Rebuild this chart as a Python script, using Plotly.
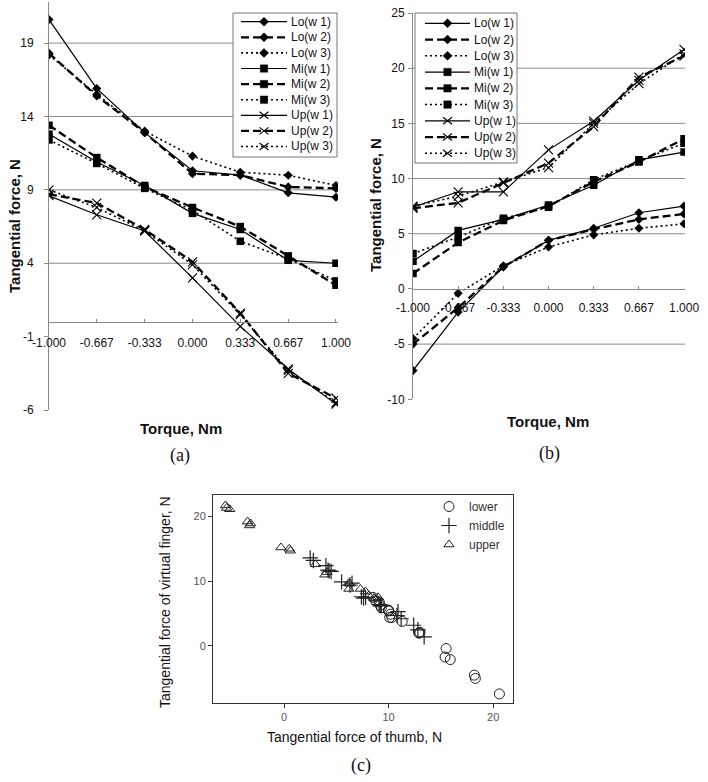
import plotly.graph_objects as go

W, H = 708, 782

# ---------------- data ----------------
TORQUE = [-1.0, -0.667, -0.333, 0.0, 0.333, 0.667, 1.0]
TORQUE_LABELS = ["-1.000", "-0.667", "-0.333", "0.000", "0.333", "0.667", "1.000"]

# Panel (a): tangential force of the thumb (N)
A_LO_W1 = [20.6, 15.9, 12.9, 10.3, 10.0, 8.8, 8.5]
A_LO_W2 = [18.3, 15.4, 12.9, 10.1, 10.0, 9.2, 9.1]
A_LO_W3 = [18.2, 15.5, 13.0, 11.3, 10.2, 10.0, 9.3]
A_MI_W1 = [12.8, 10.9, 9.3, 7.4, 6.3, 4.2, 4.0]
A_MI_W2 = [13.4, 11.2, 9.2, 7.8, 6.5, 4.5, 2.5]
A_MI_W3 = [12.4, 10.8, 9.1, 7.6, 5.5, 4.3, 2.8]
A_UP_W1 = [8.6, 7.3, 6.2, 3.0, -0.3, -3.2, -5.6]
A_UP_W2 = [8.7, 8.1, 6.3, 4.1, 0.6, -3.5, -5.2]
A_UP_W3 = [9.0, 7.8, 6.2, 3.9, 0.5, -3.3, -5.5]

# Panel (b): tangential force of the virtual finger (N)
B_LO_W1 = [-7.4, -2.1, 2.0, 4.4, 5.5, 6.9, 7.5]
B_LO_W2 = [-5.0, -1.7, 2.0, 4.4, 5.4, 6.3, 6.8]
B_LO_W3 = [-4.5, -0.4, 2.1, 3.8, 4.9, 5.5, 5.9]
B_MI_W1 = [2.5, 5.3, 6.3, 7.6, 9.4, 11.7, 12.4]
B_MI_W2 = [1.4, 4.2, 6.2, 7.5, 9.7, 11.5, 13.6]
B_MI_W3 = [3.2, 4.7, 6.4, 7.4, 9.9, 11.6, 13.2]
B_UP_W1 = [7.4, 8.8, 8.8, 12.6, 15.2, 18.9, 21.7]
B_UP_W2 = [7.3, 7.8, 9.6, 11.4, 14.7, 19.2, 21.1]
B_UP_W3 = [7.5, 8.4, 9.7, 11.0, 15.0, 18.6, 21.3]

SERIES_NAMES = ["Lo(w 1)", "Lo(w 2)", "Lo(w 3)", "Mi(w 1)", "Mi(w 2)", "Mi(w 3)",
                "Up(w 1)", "Up(w 2)", "Up(w 3)"]
A_SERIES = [A_LO_W1, A_LO_W2, A_LO_W3, A_MI_W1, A_MI_W2, A_MI_W3, A_UP_W1, A_UP_W2, A_UP_W3]
B_SERIES = [B_LO_W1, B_LO_W2, B_LO_W3, B_MI_W1, B_MI_W2, B_MI_W3, B_UP_W1, B_UP_W2, B_UP_W3]

A_YTICKS = [-6, -1, 4, 9, 14, 19]
A_YLABELS = ["-6", "-1", "4", "9", "14", "19"]
A_GRID = [4, 9, 14, 19]
B_YTICKS = [-10, -5, 0, 5, 10, 15, 20, 25]
B_YLABELS = ["-10", "-5", "0", "5", "10", "15", "20", "25"]
B_GRID = [-5, 5, 10, 15, 20]
C_TICKS = [0, 10, 20]
C_GROUPS = ["lower", "middle", "upper"]

# ---------------- styles ----------------
FONT = "Liberation Sans, Arial, sans-serif"
SERIF = "Liberation Serif, Times New Roman, serif"
AXC = "#8a8a8a"
DASHES = [dict(dash="solid", width=1.2), dict(dash="8px,4px", width=2.3), dict(dash="2px,3px", width=1.6)]
MARKERS = [dict(symbol="diamond", size=7, color="black"),
           dict(symbol="square", size=7.5, color="black"),
           dict(symbol="x-thin-open", size=9, color="black", line=dict(width=1.1, color="black"))]


def px(x):
    return x / W


def py(y):
    return 1 - y / H


A_XDOM = [px(49), px(338)]
A_YDOM = [py(410), py(2)]
A_XR = [-1, 1.014]
A_YR = [-6, 21.8]
B_XDOM = [px(413), px(685)]
B_YDOM = [py(399.3), py(13)]
B_XR = [-1, 1.007]
B_YR = [-10, 25]
C_XDOM = [px(213), px(513)]
C_YDOM = [py(703), py(495)]
C_XR = [-6.8, 21.9]
C_YR = [-8.8, 23.3]


def zero_pos(dom, rng):
    return dom[0] + (0 - rng[0]) / (rng[1] - rng[0]) * (dom[1] - dom[0])


fig = go.Figure()

for panel, data, xa, ya in (("a", A_SERIES, "x", "y"), ("b", B_SERIES, "x2", "y2")):
    for i, (name, vals) in enumerate(zip(SERIES_NAMES, data)):
        fig.add_trace(go.Scatter(
            x=TORQUE, y=vals, name=name, mode="lines+markers",
            line=dict(color="black", **DASHES[i % 3]),
            marker=MARKERS[i // 3], xaxis=xa, yaxis=ya, showlegend=False,
            legendgroup=panel))

# Panel (c): thumb force vs virtual-finger force
C_STYLE = [dict(symbol="circle-open", size=10, color="#222", line=dict(width=1, color="#222")),
           dict(symbol="cross-thin-open", size=11, color="#222", line=dict(width=1.2, color="#222")),
           dict(symbol="triangle-up-open", size=9, color="#222", line=dict(width=1, color="#222"))]
for g, name in enumerate(C_GROUPS):
    xs, ys = [], []
    for k in range(3):
        xs += A_SERIES[g * 3 + k]
        ys += B_SERIES[g * 3 + k]
    fig.add_trace(go.Scatter(x=xs, y=ys, mode="markers", name=name, marker=C_STYLE[g],
                             xaxis="x3", yaxis="y3", showlegend=True))

tickfont = dict(family=FONT, size=12, color="#111")
common = dict(automargin=False, showgrid=False, zeroline=False, showline=True, linewidth=1)

layout = dict(
    template="none",
    width=W, height=H, margin=dict(l=0, r=0, t=0, b=0, autoexpand=False),
    paper_bgcolor="white", plot_bgcolor="white",
    xaxis=dict(domain=A_XDOM, range=A_XR, anchor="free", position=zero_pos(A_YDOM, A_YR),
               tickvals=TORQUE, ticktext=TORQUE_LABELS, linecolor=AXC, ticks="inside",
               ticklen=3, tickcolor=AXC, tickfont=tickfont, ticklabelstandoff=10, **common),
    yaxis=dict(domain=A_YDOM, range=A_YR, anchor="x", tickvals=A_YTICKS, ticktext=A_YLABELS,
               linecolor=AXC, ticks="outside", ticklen=4, tickcolor=AXC, tickfont=tickfont,
               ticklabelstandoff=8, **common),
    xaxis2=dict(domain=B_XDOM, range=B_XR, anchor="free", position=zero_pos(B_YDOM, B_YR),
                tickvals=TORQUE, ticktext=TORQUE_LABELS, linecolor=AXC, ticks="inside",
                ticklen=3, tickcolor=AXC, tickfont=tickfont, ticklabelstandoff=8, **common),
    yaxis2=dict(domain=B_YDOM, range=B_YR, anchor="x2", tickvals=B_YTICKS, ticktext=B_YLABELS,
                linecolor=AXC, ticks="outside", ticklen=4, tickcolor=AXC, tickfont=tickfont,
                ticklabelstandoff=1, **common),
    xaxis3=dict(domain=C_XDOM, range=C_XR, anchor="y3", tickvals=C_TICKS, mirror=True,
                linecolor="#333", ticks="outside", ticklen=4, tickcolor="#333",
                tickfont=dict(family=FONT, size=11, color="#555"), **common),
    yaxis3=dict(domain=C_YDOM, range=C_YR, anchor="x3", tickvals=C_TICKS, mirror=True,
                linecolor="#333", ticks="outside", ticklen=4, tickcolor="#333",
                tickfont=dict(family=FONT, size=11, color="#555"), **common),
    legend=dict(x=px(429), y=py(492), xanchor="left", yanchor="top", bgcolor="rgba(0,0,0,0)",
                borderwidth=0, font=dict(family=FONT, size=12, color="#333"),
                tracegroupgap=0, itemsizing="trace"),
    showlegend=True,
)
fig.update_layout(**layout)

shapes = []
# gridlines
for v in A_GRID:
    shapes.append(dict(type="line", xref="x domain", yref="y", x0=0, x1=1, y0=v, y1=v,
                       line=dict(color=AXC, width=1), layer="below"))
for v in B_GRID:
    shapes.append(dict(type="line", xref="x2 domain", yref="y2", x0=0, x1=1, y0=v, y1=v,
                       line=dict(color=AXC, width=1), layer="below"))

annotations = []


def marker_shapes(kind, cx, cy):
    out = []
    if kind == 0:  # diamond
        p = "M{},{} L{},{} L{},{} L{},{} Z".format(
            px(cx - 4.5), py(cy), px(cx), py(cy - 4.5), px(cx + 4.5), py(cy), px(cx), py(cy + 4.5))
        out.append(dict(type="path", xref="paper", yref="paper", path=p, fillcolor="black",
                        line=dict(color="black", width=0.5), layer="above"))
    elif kind == 1:  # square
        out.append(dict(type="rect", xref="paper", yref="paper", x0=px(cx - 3.7), x1=px(cx + 3.7),
                        y0=py(cy + 3.7), y1=py(cy - 3.7), fillcolor="black",
                        line=dict(color="black", width=0.5), layer="above"))
    else:  # thin x
        p = "M{},{} L{},{} M{},{} L{},{}".format(
            px(cx - 4.5), py(cy - 3.5), px(cx + 4.5), py(cy + 3.5),
            px(cx - 4.5), py(cy + 3.5), px(cx + 4.5), py(cy - 3.5))
        out.append(dict(type="path", xref="paper", yref="paper", path=p,
                        line=dict(color="black", width=1.1), layer="above"))
    return out


def build_legend(box, y0, step, lx0, lx1, tx):
    shapes.append(dict(type="rect", xref="paper", yref="paper", x0=px(box[0]), x1=px(box[1]),
                       y0=py(box[3]), y1=py(box[2]), fillcolor="white",
                       line=dict(color="#777", width=1), layer="above"))
    for i, name in enumerate(SERIES_NAMES):
        yc = y0 + i * step
        st = DASHES[i % 3]
        shapes.append(dict(type="line", xref="paper", yref="paper", x0=px(lx0), x1=px(lx1),
                           y0=py(yc), y1=py(yc),
                           line=dict(color="black", width=st["width"], dash=st["dash"]),
                           layer="above"))
        shapes.extend(marker_shapes(i // 3, (lx0 + lx1) / 2, yc))
        annotations.append(dict(text=name, x=px(tx), y=py(yc), xref="paper", yref="paper",
                                xanchor="left", yanchor="middle", showarrow=False,
                                font=dict(family=FONT, size=12, color="#111")))


build_legend((233, 337, 13, 157), 21.7, 15.6, 241, 287, 289)
build_legend((415, 517, 13, 163), 23.3, 16.25, 425, 470, 472)


def ann(text, x, y, size, family=FONT, bold=False, angle=0):
    annotations.append(dict(text="<b>%s</b>" % text if bold else text, x=px(x), y=py(y),
                            xref="paper", yref="paper", showarrow=False, textangle=angle,
                            xanchor="center", yanchor="middle",
                            font=dict(family=family, size=size, color="#111")))


ann("Tangential force, N", 15, 226, 15, bold=True, angle=-90)
ann("Tangential force, N", 375, 205, 15, bold=True, angle=-90)
ann("Torque, Nm", 181, 428, 15, bold=True)
ann("Torque, Nm", 548, 422, 15, bold=True)
ann("(a)", 180, 455, 18, family=SERIF)
ann("(b)", 549, 453, 18, family=SERIF)
ann("(c)", 361, 765, 18, family=SERIF)
ann("Tangential force of thumb, N", 355, 737, 14)
ann("Tangential force of virtual finger, N", 165, 602, 14, angle=-90)

fig.update_layout(shapes=shapes, annotations=annotations)
fig.write_html("out.html", config={"displayModeBar": False},
               post_script="document.body.style.margin='0';")
